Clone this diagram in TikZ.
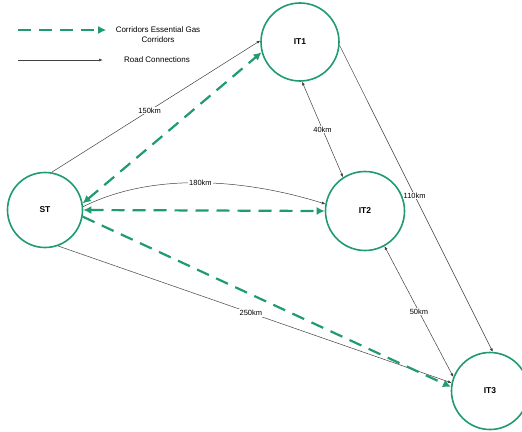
\documentclass[tikz,border=0pt]{standalone}
\usepackage{fontspec}
\setmainfont{Liberation Sans}
\usetikzlibrary{arrows.meta,positioning,calc}
\definecolor{gasgreen}{RGB}{32,155,112}

\begin{document}
\begin{tikzpicture}[x=1pt, y=-1pt, >=Latex,
  site/.style={circle, draw=gasgreen, line width=1.6pt, minimum size=75pt, inner sep=0pt,
    font=\fontsize{8.5}{9}\selectfont\bfseries},
  road/.style={draw=black!75, line width=0.5pt},
  gas/.style={draw=gasgreen, line width=2.2pt, dash pattern=on 13pt off 8pt},
  dist/.style={fill=white, inner sep=0.8pt, font=\fontsize{7.5}{8}\selectfont},
  legtext/.style={font=\fontsize{8}{10}\selectfont, align=center}]
  % рамка картинки
  \useasboundingbox (0,0) rectangle (522,431);

  % наконечники
  \def\gtip{Latex[length=8pt,width=8pt]}
  \def\rtip{Latex[length=3.5pt,width=3pt]}

  % узлы
  \node[site] (st) at (45,210) {ST};
  \node[site, minimum size=78pt] (it1) at (300,42) {IT1};
  \node[site, minimum size=79pt] (it2) at (365,211) {IT2};
  \node[site, minimum size=77pt] (it3) at (490,391) {IT3};

  % легенда
  \coordinate (lg1) at (18,30);
  \node[legtext] (lgas) at (158,35) {Corridors Essential Gas\\Corridors};
  \coordinate (lg2) at (18,60);
  \node[legtext] (lroad) at (157,60) {Road Connections};
  \draw[gas, -{\gtip}] (lg1) -- ($(lgas.west)+(-6,-5)$);
  \draw[road, -{\rtip}] (lg2) -- ($(lroad.west)+(-18,0)$);

  % дороги
  \draw[road, -{\rtip}] (st.80) -- (it1.178) node[dist, pos=0.47] {150km};
  \draw[road, -{\rtip}] (st.5) .. controls +(70,-35) and +(-80,-25) .. (it2.170)
    node[dist, pos=0.5] {180km};
  \draw[road, -{\rtip}] (st.-70) -- (it3.168) node[dist, pos=0.49] {250km};
  \draw[road, {\rtip}-{\rtip}] (it1.-87) -- (it2.123) node[dist, pos=0.5] {40km};
  \draw[road, -{\rtip}] (it1.-5) -- (it3.86) node[dist, pos=0.49] {110km};
  \draw[road, {\rtip}-{\rtip}] (it2.-61) -- (it3.159) node[dist, pos=0.5] {50km};

  % газовые коридоры
  \draw[gas, {\gtip}-{\gtip}] (st.10) -- (it1.195);
  \draw[gas, {\gtip}-{\gtip}] (st.0) -- (it2.180);
  \draw[gas, -{\gtip}] (st.-10) -- (it3.174);
\end{tikzpicture}
\end{document}
